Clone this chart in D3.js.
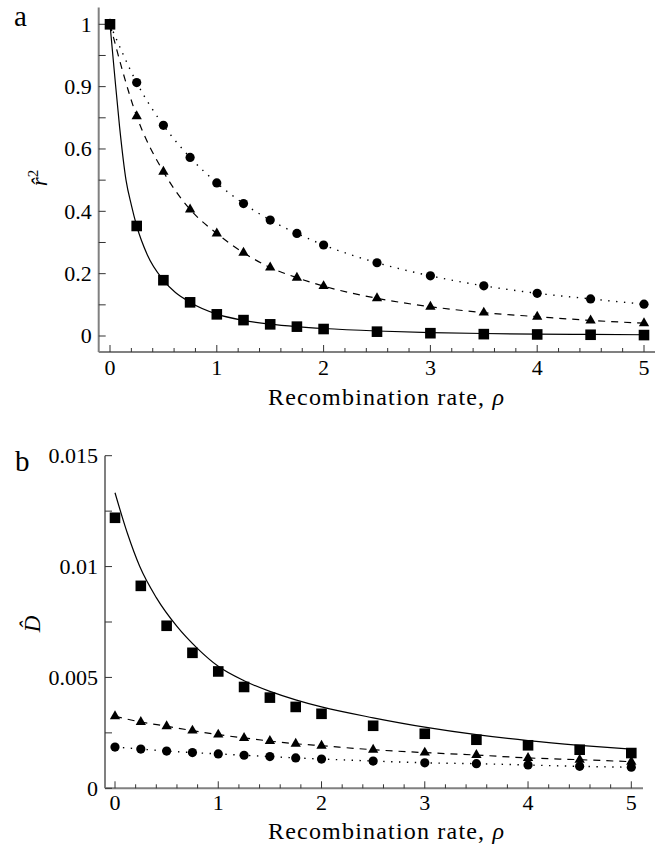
<!DOCTYPE html>
<html><head><meta charset="utf-8">
<script src="https://cdn.jsdelivr.net/npm/d3@7"></script>
</head><body style="margin:0;background:#fff">
<svg id="c" width="662" height="847"></svg>
<script>
// ---- data ----
const rho = [0,0.25,0.5,0.75,1,1.25,1.5,1.75,2,2.5,3,3.5,4,4.5,5];
const xTicks = [0,1,2,3,4,5];

// panel a
const aTickVals = [0,0.2,0.4,0.6,0.8,1];
const aTickLabels = ["0","0.2","0.4","0.6","0.9","1"];
const aSquares   = [1,0.353,0.179,0.108,0.0695,0.051,0.0374,0.030,0.0224,0.0139,0.009,0.006,0.005,0.004,0.003];
const aTriangles = [1,0.705,0.527,0.406,0.329,0.267,0.220,0.187,0.160,0.121,0.094,0.075,0.062,0.050,0.041];
const aCircles   = [1,0.813,0.676,0.573,0.491,0.425,0.372,0.329,0.292,0.235,0.193,0.161,0.137,0.119,0.102];
const aSolidRho  = [0,0.04,0.09,0.15,0.2,0.25,0.35,0.5,0.75,1,1.25,1.5,1.75,2,2.5,3,3.5,4,4.5,5];
const aSolid     = [1,0.85,0.67,0.5,0.42,0.353,0.26,0.179,0.108,0.07,0.05,0.038,0.03,0.024,0.016,0.011,0.008,0.006,0.005,0.004];

// panel b
const bTickVals = [0,0.005,0.01,0.015];
const bTickLabels = ["0","0.005","0.01","0.015"];
const bSquares   = [0.0122,0.00913,0.00733,0.00611,0.00527,0.00457,0.00409,0.00367,0.00336,0.00282,0.00246,0.00219,0.00194,0.00174,0.00159];
const bTriangles = [0.00325,0.00299,0.00280,0.00260,0.00242,0.00227,0.00213,0.00201,0.00192,0.00174,0.00161,0.00150,0.00137,0.00129,0.00120];
const bCircles   = [0.00186,0.00177,0.00168,0.00161,0.00155,0.00149,0.00143,0.00137,0.00132,0.00123,0.00115,0.00111,0.00105,0.00099,0.00095];
const bSolidRho  = [0,0.12,0.24,0.4,0.6,0.8,1,1.25,1.5,1.75,2,2.5,3,3.5,4,4.5,5];
const bSolid     = [0.01333,0.0115,0.0100,0.0086,0.0073,0.0063,0.0055,0.00485,0.00437,0.00399,0.00367,0.00318,0.00276,0.00242,0.00215,0.00194,0.00177];

const FONT = '"Liberation Serif"';
const svg = d3.select("#c");
const AX = "#808080";

function panel(o){
  const g = svg.append("g");
  const x = d3.scaleLinear().domain([0,5]).range(o.xr);
  const y = d3.scaleLinear().domain(o.yd).range(o.yr);
  g.append("line").attr("x1",o.axX).attr("x2",o.axX).attr("y1",o.axTop).attr("y2",o.axY)
    .attr("stroke",AX).attr("stroke-width",2);
  g.append("line").attr("x1",o.axX).attr("x2",o.axRight).attr("y1",o.axY).attr("y2",o.axY)
    .attr("stroke",AX).attr("stroke-width",2);
  const minor = d3.range(0,5.0001,0.2);
  g.selectAll(".xt").data(minor).join("line")
    .attr("x1",d=>x(d)).attr("x2",d=>x(d))
    .attr("y1",o.axY).attr("y2",d=>o.axY-(Math.abs(d-Math.round(d))<1e-6?7:4))
    .attr("stroke","#333").attr("stroke-width",1);
  g.selectAll(".xl").data(xTicks).join("text")
    .attr("x",d=>x(d)).attr("y",o.xLabY).attr("text-anchor","middle")
    .style("font-family",FONT).style("font-size","22px").text(d=>d);
  g.selectAll(".yt").data(o.yMinor).join("line")
    .attr("x1",o.axX).attr("x2",o.axX+7).attr("y1",d=>y(d)).attr("y2",d=>y(d))
    .attr("stroke","#333").attr("stroke-width",1);
  g.selectAll(".yl").data(o.yTicks).join("text")
    .attr("x",o.axX-7).attr("y",d=>y(d)).attr("dy","0.34em").attr("text-anchor","end")
    .style("font-family",FONT).style("font-size","22px").text((d,i)=>o.yLabels[i]);
  const t = g.append("text").attr("x",o.titleX).attr("y",o.titleY)
    .style("font-family",FONT).style("font-size","24px")
    .attr("textLength",236).attr("lengthAdjust","spacing");
  t.append("tspan").text("Recombination rate, ");
  t.append("tspan").attr("font-style","italic").text("ρ");
  g.append("text").attr("x",o.letterX).attr("y",o.letterY)
    .style("font-family",FONT).style("font-size","29px").text(o.letter);

  const line = d3.line().x(d=>x(d[0])).y(d=>y(d[1])).curve(d3.curveMonotoneX);
  const zip = (a,b)=>a.map((v,i)=>[v,b[i]]);
  g.append("path").datum(zip(o.solidRho,o.solid)).attr("d",line)
    .attr("fill","none").attr("stroke","#000").attr("stroke-width",1.2);
  g.append("path").datum(zip(rho,o.tri)).attr("d",line)
    .attr("fill","none").attr("stroke","#000").attr("stroke-width",1.2).attr("stroke-dasharray","7,6");
  g.append("path").datum(zip(rho,o.cir)).attr("d",line)
    .attr("fill","none").attr("stroke","#000").attr("stroke-width",1.4)
    .attr("stroke-dasharray","1.4,6.5");
  g.selectAll(".ci").data(zip(rho,o.cir)).join("circle")
    .attr("cx",d=>x(d[0])).attr("cy",d=>y(d[1])).attr("r",4.6).attr("fill","#000");
  const tri = d3.symbol().type(d3.symbolTriangle).size(46);
  g.selectAll(".tr").data(zip(rho,o.tri)).join("path")
    .attr("d",tri).attr("transform",d=>`translate(${x(d[0])},${y(d[1])})`).attr("fill","#000");
  g.selectAll(".sq").data(zip(rho,o.sq)).join("rect")
    .attr("x",d=>x(d[0])-5.3).attr("y",d=>y(d[1])-5.3).attr("width",10.6).attr("height",10.6).attr("fill","#000");
  return g;
}

panel({
  xr:[110,644], yd:[0,1], yr:[336,24.3],
  axX:98.7, axY:352, axTop:7.5, axRight:655,
  xLabY:375, yTicks:aTickVals, yLabels:aTickLabels, yMinor:d3.range(0,1.0001,0.1),
  titleX:268, titleY:405, letterX:14, letterY:26, letter:"a",
  solidRho:aSolidRho, solid:aSolid, sq:aSquares, tri:aTriangles, cir:aCircles
});
panel({
  xr:[115,631.3], yd:[0,0.015], yr:[788.3,455.7],
  axX:105, axY:788.3, axTop:455.7, axRight:643,
  xLabY:810, yTicks:bTickVals, yLabels:bTickLabels, yMinor:d3.range(0,0.01501,0.0025),
  titleX:268, titleY:839, letterX:15, letterY:471, letter:"b",
  solidRho:bSolidRho, solid:bSolid, sq:bSquares, tri:bTriangles, cir:bCircles
});

const ya = svg.append("text").attr("transform","translate(47,178) rotate(-90)")
  .attr("text-anchor","middle").style("font-family",FONT).style("font-size","23px");
ya.append("tspan").attr("font-style","italic").text("r\u0302");
ya.append("tspan").style("font-size","15px").attr("dy",-9).text("2");
svg.append("text").attr("transform","translate(40,624) rotate(-90)")
  .attr("text-anchor","middle").style("font-family",FONT).style("font-size","23px")
  .attr("font-style","italic").text("D\u0302");
</script>
</body></html>
